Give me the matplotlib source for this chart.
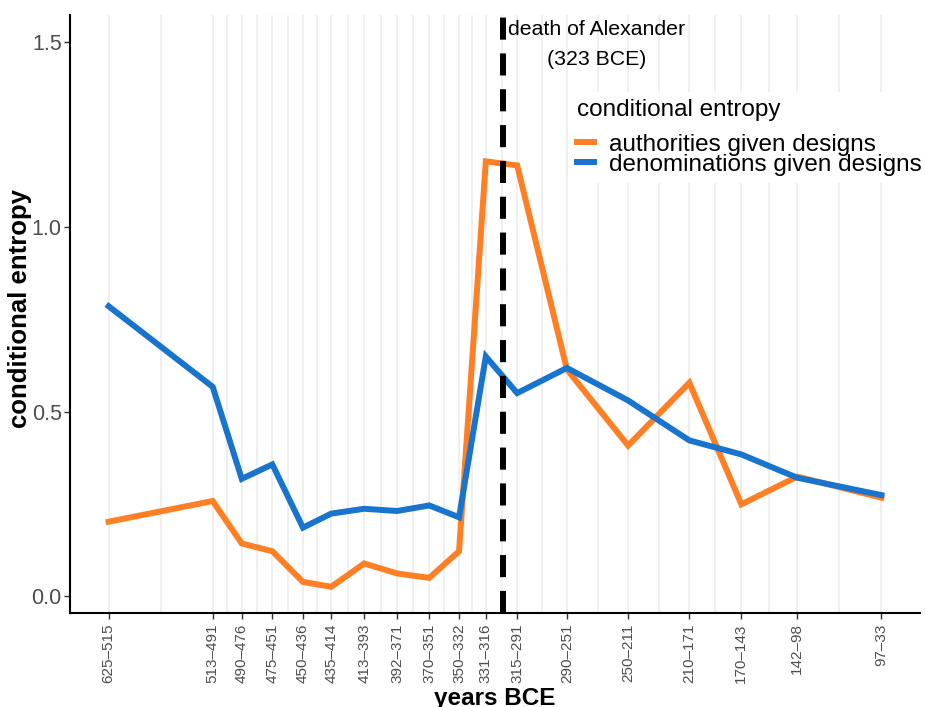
import matplotlib
matplotlib.use("Agg")
import matplotlib.pyplot as plt
import numpy as np

plt.rcParams['font.family'] = ['Liberation Sans', 'DejaVu Sans']

# periods (years BCE) and their labels
periods = ["625–515", "513–491", "490–476", "475–451", "450–436", "435–414",
           "413–393", "392–371", "370–351", "350–332", "331–316", "315–291",
           "290–251", "250–211", "210–171", "170–143", "142–98", "97–33"]
period_mid = [570, 502, 483, 463, 443, 424.5, 403, 381.5, 360.5, 341,
              323.5, 303, 270.5, 230.5, 190.5, 156.5, 120, 65]

authorities = [0.202, 0.258, 0.143, 0.122, 0.039, 0.026, 0.089, 0.062, 0.050,
               0.122, 1.177, 1.166, 0.614, 0.408, 0.578, 0.249, 0.324, 0.267]
denominations = [0.785, 0.567, 0.318, 0.357, 0.186, 0.224, 0.237, 0.231, 0.246,
                 0.214, 0.649, 0.550, 0.618, 0.530, 0.422, 0.384, 0.321, 0.274]

alexander_x = 312
orange = "#FF7F24"
blue = "#1874CD"

fig = plt.figure(figsize=(9.25, 7.07), dpi=100)
ax = fig.add_axes([70/925, 1-613/707, 850/925, 598/707])

# vertical grid: majors at ticks, minors halfway between
mids = np.array(period_mid)
minors = (mids[:-1] + mids[1:]) / 2
for x in list(mids) + list(minors):
    ax.axvline(x, color="#EBEBEB", lw=1.1, zorder=0)

ax.plot(period_mid, authorities, color=orange, lw=4.3, label="authorities given designs",
        solid_joinstyle="miter", zorder=3)
ax.plot(period_mid, denominations, color=blue, lw=4.3, label="denominations given designs",
        solid_joinstyle="miter", zorder=3)

ax.axvline(alexander_x, color="black", lw=4.3, dashes=(3.7, 2.3), zorder=4)
ax.text(251, 1.493, "death of Alexander\n(323 BCE)", ha="center", va="center",
        multialignment="center", fontsize=15.3, linespacing=1.75, zorder=5)

ax.set_xlim(595.25, 39.75)
ax.set_ylim(-0.045, 1.573)
ax.set_xticks(period_mid)
ax.set_xticklabels(periods, rotation=90, fontsize=11, color="#4D4D4D")
ax.set_yticks([0, 0.5, 1.0, 1.5])
ax.set_yticklabels(["0.0", "0.5", "1.0", "1.5"], fontsize=15.5, color="#4D4D4D")
ax.tick_params(axis="both", length=4, width=1, color="#333333")
ax.tick_params(axis="y", pad=2)

for s in ["top", "right"]:
    ax.spines[s].set_visible(False)
for s in ["left", "bottom"]:
    ax.spines[s].set_linewidth(1.5)
    ax.spines[s].set_color("black")

ax.set_ylabel("conditional entropy", fontsize=18.5, fontweight="bold", va="center")
ax.yaxis.set_label_coords(-50/850, 0.51)
ax.set_xlabel("years BCE", fontsize=17.5, fontweight="bold", va="center")
ax.xaxis.set_label_coords(0.5, -85/598)

leg = fig.legend(loc="upper left", bbox_to_anchor=(570/925, 1-92/707),
                 title="conditional entropy", fontsize=17.5, title_fontsize=17.5,
                 frameon=True, facecolor="white", edgecolor="none", framealpha=1,
                 handlelength=0.7, handletextpad=0.6, labelspacing=-0.08,
                 borderpad=0.3, borderaxespad=0, fancybox=False)
leg._legend_box.align = "left"
leg._legend_box.sep = 9
for h in leg.legend_handles:
    h.set_linewidth(4.3)

fig.savefig("out.png", dpi=100)
